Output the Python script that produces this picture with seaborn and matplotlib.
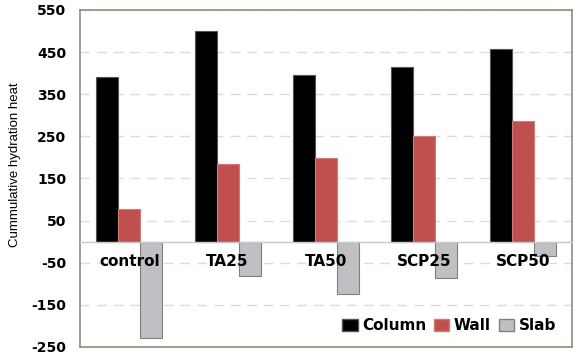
import matplotlib
matplotlib.use("Agg")
import matplotlib.pyplot as plt
import seaborn as sns
import pandas as pd
from matplotlib.patches import Patch

categories = ["control", "TA25", "TA50", "SCP25", "SCP50"]
column_vals = [392, 500, 396, 414, 457]
wall_vals = [78, 184, 198, 252, 287]
slab_vals = [-228, -81, -123, -86, -35]
series = ["Column", "Wall", "Slab"]
yticks = [-250, -150, -50, 50, 150, 250, 350, 450, 550]

colors = {"Column": "#000000", "Wall": "#C0504D", "Slab": "#C0BFC3"}
edges = {"Column": "#555555", "Wall": "#D07A78", "Slab": "#808080"}
frame_c = "#8E8C7A"
bold_font = ["DejaVu Sans"]

rows = []
for s, vals in zip(series, [column_vals, wall_vals, slab_vals]):
    for c, v in zip(categories, vals):
        rows.append({"cat": c, "series": s, "value": v})
df = pd.DataFrame(rows)

sns.set_style("white")
plt.rcParams["font.family"] = ["Liberation Sans", "DejaVu Sans"]
plt.rcParams["text.color"] = "black"
plt.rcParams["axes.labelcolor"] = "black"
plt.rcParams["xtick.color"] = "black"
plt.rcParams["ytick.color"] = "black"

fig = plt.figure(figsize=(5.73, 3.58), dpi=100)
ax = fig.add_axes([80/573, 1-347/358, (572-80)/573, (347-10)/358])

sns.barplot(data=df, x="cat", y="value", hue="series", order=categories,
            hue_order=series, palette=colors, width=0.67, saturation=1,
            ax=ax, legend=False)

for cont, s in zip(ax.containers, series):
    for p in cont:
        p.set_edgecolor(edges[s])
        p.set_linewidth(0.8)

ax.set_ylim(-250, 550)
ax.set_xlim(-0.5, 4.5)
ax.set_yticks(yticks)
ax.set_yticklabels([str(t) for t in yticks], fontsize=10, fontweight="bold",
                   family=bold_font, color="black")
ax.tick_params(axis="y", length=0, pad=10)

ax.set_axisbelow(True)
ax.grid(axis="y", color="#DCDCDC", linestyle=(0, (7, 5)), linewidth=1)
ax.grid(axis="x", visible=False)

for sp in ["left", "right", "top"]:
    ax.spines[sp].set_color(frame_c)
    ax.spines[sp].set_linewidth(1.2)
ax.spines["bottom"].set_position(("data", 0))
ax.spines["bottom"].set_color("#C8C8C8")
ax.spines["bottom"].set_linewidth(1)
ax.axhline(-250, color=frame_c, linewidth=1.2, clip_on=False, zorder=5)

ax.set_xticks(range(len(categories)))
ax.set_xticklabels(categories, fontsize=11, fontweight="bold", family=bold_font,
                   color="black")
ax.set_xticks([0.5, 1.5, 2.5, 3.5], minor=True)
ax.tick_params(axis="x", which="major", length=0, pad=9)
ax.tick_params(axis="x", which="minor", length=3, color="#C8C8C8", direction="out")
ax.xaxis.set_zorder(5)
ax.set_xlabel("")
ax.set_ylabel("Cummulative hydration heat", fontsize=9.5, color="black")
ax.yaxis.set_label_coords(-0.12, 0.54)

handles = [Patch(facecolor=colors[s], edgecolor=edges[s], label=s) for s in series]
leg = ax.legend(handles=handles, loc="lower right", bbox_to_anchor=(0.995, 0.0),
                ncol=3, frameon=False, handlelength=1.0, handleheight=0.8,
                handletextpad=0.3, columnspacing=0.5,
                prop={"size": 11, "weight": "bold", "family": bold_font})
for t in leg.get_texts():
    t.set_color("black")

fig.savefig("out.png", dpi=100)
